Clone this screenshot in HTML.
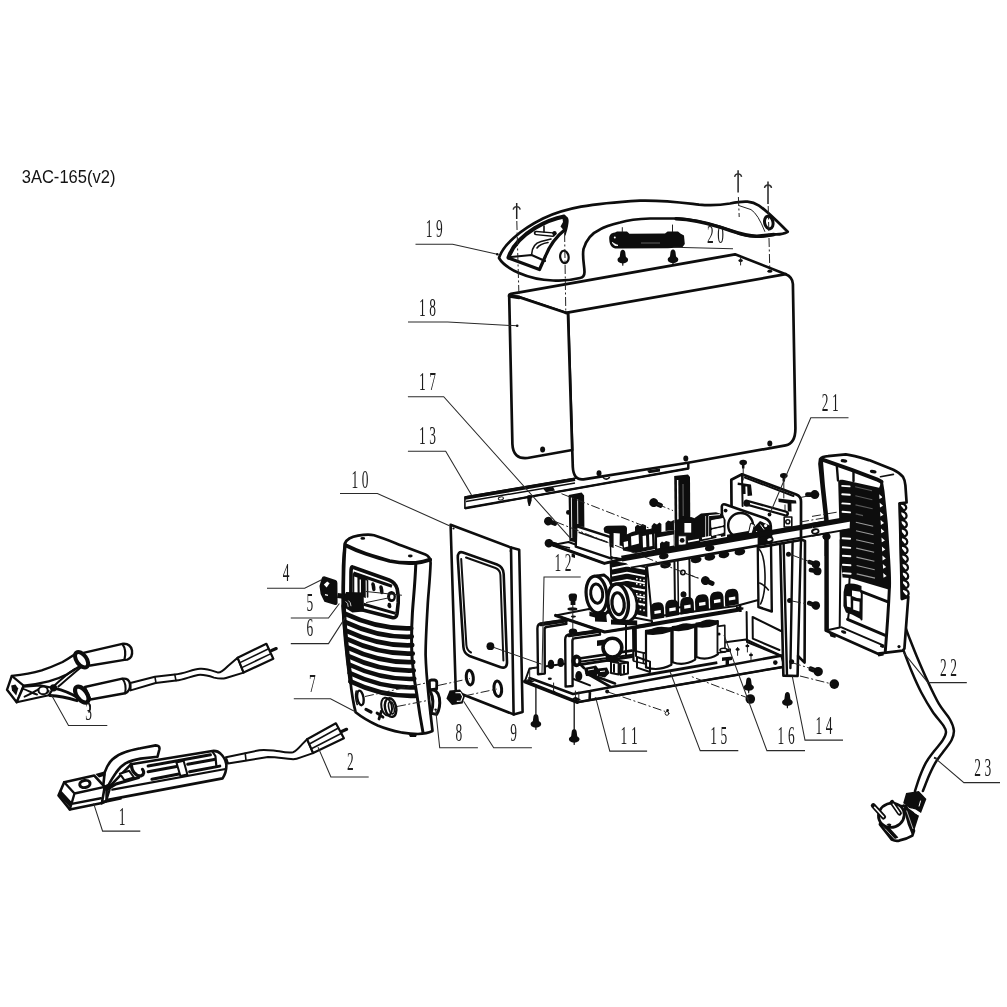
<!DOCTYPE html>
<html><head><meta charset="utf-8"><title>3AC-165(v2)</title>
<style>
html,body{margin:0;padding:0;background:#fff;}
svg{display:block;}
.o{fill:none;stroke:#0d0d0d;stroke-width:2.7;stroke-linejoin:round;stroke-linecap:round;}
.ow{fill:#fff;stroke:#0d0d0d;stroke-width:2.7;stroke-linejoin:round;stroke-linecap:round;}
.m{fill:none;stroke:#111;stroke-width:1.6;stroke-linejoin:round;stroke-linecap:round;}
.mw{fill:#fff;stroke:#111;stroke-width:1.6;stroke-linejoin:round;stroke-linecap:round;}
.t{fill:none;stroke:#222;stroke-width:1;stroke-linejoin:round;stroke-linecap:round;}
.tw{fill:#fff;stroke:#222;stroke-width:1;stroke-linejoin:round;}
.k{fill:none;stroke:#0d0d0d;stroke-width:3.4;stroke-linejoin:round;stroke-linecap:round;}
.l{fill:none;stroke:#2a2a2a;stroke-width:1.05;}
.d{fill:none;stroke:#222;stroke-width:1;stroke-dasharray:9 2.5 2 2.5;}
.f{fill:#0d0d0d;stroke:none;}
.w{fill:#fff;stroke:none;}
.lb{font-family:"Liberation Serif",serif;fill:#1a1a1a;opacity:.99;}
.ti{font-family:"Liberation Sans",sans-serif;fill:#111;opacity:.99;}
</style></head>
<body>
<svg width="1007" height="1007" viewBox="0 0 1007 1007" style="will-change:transform;opacity:.999">
<rect width="1007" height="1007" fill="#fff"/>
<text x="21.7" y="182.6" font-size="17.5" textLength="93.8" lengthAdjust="spacingAndGlyphs" class="ti">3AC-165(v2)</text>
<path class="ow" style="stroke-width:1.6" d="M464.9,497.1 L574.1,478.5 L688.3,462.8 L688.3,468.5 L464.9,508.3 Z"/>
<path d="M464.9,498 L575,479.2" stroke="#0d0d0d" stroke-width="3.6" fill="none"/>
<path d="M464.9,508.3 L688.3,468.5 L688.3,462.6" stroke="#0d0d0d" stroke-width="2.4" fill="none" stroke-linejoin="round"/>
<path d="M466,501.6 L575,483" stroke="#0d0d0d" stroke-width="1.5" fill="none"/>
<ellipse cx="500.9" cy="498.4" rx="2.6" ry="1.5" class="tw" transform="rotate(-9 500.9 498.4)"/>
<path class="f" d="M543,488.6 L553,487 L555,490.4 L546,492.2 Z"/>
<path class="f" d="M527.2,496.6 L531.6,496 L531.6,500.6 L530,506 L528.6,506 L527.4,501 Z"/>
<path class="f" d="M647,470.4 L660,468.4 L660,471.4 L649,473.2 Z"/>
<path class="m" d="M603.4,473 q-2,3.6 1,5.6 q3,1.4 5,-1"/>
<path class="ow" d="M509.5,296.5 Q508.3,294.5 511,293.8 L735,254.3 L785.8,274.2 Q792.6,277 792.9,284 L795.4,428 Q795.6,443.6 785.6,445.4 L689.4,462.5 L583.5,479.3 Q573.5,480.5 572.8,467 L568,313 L565.8,312.9 L519.2,297 Z"/>
<path class="ow" d="M509.2,296 L512.4,444 Q513,459.5 527.5,458 L572.2,450 L568,313.5 L519.2,297.2 Z"/>
<path class="o" d="M565.8,312.9 L785.8,274.2"/>
<path class="o" d="M509.5,296 L519.2,297.5" style="stroke-width:3.4"/>
<ellipse cx="542.6" cy="449.5" rx="2.5" ry="3" class="f"/>
<ellipse cx="599" cy="473.3" rx="2.5" ry="3" class="f"/>
<ellipse cx="685.8" cy="458.4" rx="2.5" ry="3" class="f"/>
<ellipse cx="769.8" cy="443.5" rx="2.5" ry="3" class="f"/>
<ellipse cx="740.6" cy="260.4" rx="2.2" ry="1.5" class="f"/><ellipse cx="769.8" cy="271.2" rx="2.4" ry="1.6" class="f"/>
<path class="t" d="M740.6,258 V265"/>
<circle cx="545.6" cy="451.5" r="0" />
<text x="707.0" y="242.6" font-size="25" textLength="6.7" lengthAdjust="spacingAndGlyphs" class="lb">2</text>
<text x="717.3" y="242.6" font-size="25" textLength="6.7" lengthAdjust="spacingAndGlyphs" class="lb">0</text>
<path class="ow" d="M499,258 C503,245 520,230 543,218.5 C565,208 590,203.5 640,200.6 C665,200 685,203 699,204.6 C710,205.6 720,205.2 730,203.5 C745,200.3 752,201 759,205.6 C767,211 778,222 787.7,231.8 C784,234 778,234.5 775,234.4 C765,236.5 757,237 755,236.4 C748,236 742,234.5 739,233.4 C730,230 722,227.5 719,226.5 C710,224 702,222 699,221.5 C690,219.5 683,218.5 679,218.5 L650,218.5 C635,219 625,221 620,222.5 C610,225 604,227 600,229.4 C592,233 586,240 583.5,249 C582,257 584.5,266 584.5,272 C584.5,276 583,277.5 580,278 C570,280.5 560,281 553,280.5 C540,280 528,277 519,273 C510,269 503,265 499,258 Z"/>
<path class="k" d="M676,218.8 C690,219.5 705,222.5 719,226.8 C735,232 745,236.2 757,236.2 L774,234.5"/>
<path class="t" d="M739,205.6 L751,209.6 Q758,214 764.8,231.4"/>
<ellipse cx="768.8" cy="222.5" rx="4.2" ry="6.4" fill="#fff" stroke="#0d0d0d" stroke-width="3" transform="rotate(-12 768.8 222.5)"/>
<path class="k" style="stroke-width:4" d="M508.5,257.5 C512,247 522,236 535,228 C546,221.5 556,218 564,216.5"/>
<path class="o" style="stroke-width:3.2" d="M508.5,258 L539.5,269.5 L545.5,256 C550,245 557,236 564.5,230"/>
<path class="f" d="M562,216 C567,214.5 569.5,218 568.5,223 C568,228 566.5,232 565.4,236 L563.5,230 L560.5,226.5 L563,222 Z"/>
<path class="o" d="M511,257 L531.6,255 L545,261" style="stroke-width:2"/>
<path class="m" d="M531.6,254.5 C532,247 535,243 541,241.5 L551,239"/>
<path class="m" d="M537,248 C539,245 542,243.5 548,242.5"/>
<path d="M536,233 L553,234.6" stroke="#0d0d0d" stroke-width="4.6" stroke-linecap="round" fill="none"/><path d="M536.4,233.1 L552.6,234.5" stroke="#fff" stroke-width="1.8" stroke-linecap="round" fill="none"/>
<circle cx="554.5" cy="233.2" r="2.2" class="f"/>
<path class="m" d="M544,226 V232"/>
<ellipse cx="564.4" cy="256.9" rx="4.2" ry="6.2" fill="#fff" stroke="#0d0d0d" stroke-width="2.2" transform="rotate(-8 564.4 256.9)"/>
<path class="f" d="M609.3,240 C608.8,235.4 610.6,233 615,232.6 L617,231.6 L627,231.6 L629.4,233.8 L665,233.6 L667.6,231.4 L678,231.4 L680.4,233.6 L684,235.4 L684.8,244 L682.4,247.2 L668,248.2 L617,248.6 C612,248.6 609.6,245.4 609.3,240 Z"/>
<path d="M612.4,242.4 C613.6,245 615.6,246 618,245.4 C615.6,244.6 613.6,243.4 612.4,242.4 Z" fill="#fff" stroke="#fff" stroke-width="1"/><circle cx="614.8" cy="237.6" r="1" fill="#fff"/>
<path d="M641,243 L660,243" stroke="#777" stroke-width="0.8" fill="none"/>
<path class="t" d="M622.3,227.6 V232 M672.5,225 V231.6"/>
<path class="f" transform="translate(622.8,259.59999999999997) scale(1.0)" d="M0,-9.9 C1.6,-9.9 2.3,-8.5 2.5,-7 L3,-3 C3.3,-2 5.3,-1.6 5.3,0.2 C5.3,2.6 2.6,3.6 0.7,3.7 L0.5,6.2 L-0.5,6.2 L-0.7,3.7 C-2.6,3.6 -5.3,2.6 -5.3,0.2 C-5.3,-1.6 -3.3,-2 -3,-3 L-2.5,-7 C-2.3,-8.5 -1.6,-9.9 0,-9.9 Z"/>
<path class="f" transform="translate(673,259.3) scale(1.0)" d="M0,-9.9 C1.6,-9.9 2.3,-8.5 2.5,-7 L3,-3 C3.3,-2 5.3,-1.6 5.3,0.2 C5.3,2.6 2.6,3.6 0.7,3.7 L0.5,6.2 L-0.5,6.2 L-0.7,3.7 C-2.6,3.6 -5.3,2.6 -5.3,0.2 C-5.3,-1.6 -3.3,-2 -3,-3 L-2.5,-7 C-2.3,-8.5 -1.6,-9.9 0,-9.9 Z"/>
<path d="M516.7,203 V219" stroke="#222" stroke-width="1.5" fill="none"/>
<path d="M513.2,209.6 Q513.5,206.8 516.7,206.6 Q519.9000000000001,206.8 520.2,209.6" stroke="#333" stroke-width="1.4" fill="none"/>
<path d="M738.1,170.3 V192.6" stroke="#222" stroke-width="1.5" fill="none"/>
<path d="M734.6,176.9 Q734.9,174.10000000000002 738.1,173.9 Q741.3000000000001,174.10000000000002 741.6,176.9" stroke="#333" stroke-width="1.4" fill="none"/>
<path d="M768,181.4 V204" stroke="#222" stroke-width="1.5" fill="none"/>
<path d="M764.5,188.0 Q764.8,185.20000000000002 768,185.0 Q771.2,185.20000000000002 771.5,188.0" stroke="#333" stroke-width="1.4" fill="none"/>
<path class="d" d="M516.8,221 L519,297 M564.6,233 L565.8,313 M738.4,197 L739.2,217 M768.2,206 L769.8,270"/>
<path class="ow" style="stroke-width:2" d="M524.8,681.5 L529.5,668.5 L746,639.5 L781.2,655.6 L784.4,666.7 L577.2,702.2 Z"/>
<path class="o" style="stroke-width:3.6" d="M524.8,681.5 L577.2,702.2"/>
<path class="o" style="stroke-width:2.6" d="M577.2,702.2 L784.4,666.7 M590,691 L781.2,655.6 M590,691 L589.6,699.6 M529.5,678 L573,694 L590,691"/>
<path class="ow" style="stroke-width:2.6" d="M780.2,543 L801,539.5 L805,541 L804.6,662.6 L798,656 L797.6,676 L783.4,675.6 Z"/>
<path class="o" style="stroke-width:2.4" d="M783.6,543 L787,675 M792.6,541.5 L790.4,668 M801,540 L798,656"/>
<circle cx="788.5" cy="554.2" r="2.5" class="f"/>
<circle cx="789.6" cy="600.6" r="2.5" class="f"/>
<circle cx="791.7" cy="661.8" r="2.5" class="f"/>
<circle cx="775.3" cy="662.6" r="2.3" class="f"/>
<path class="ow" style="stroke-width:2.7" d="M731.3,479.7 L742,474.3 L796.3,494.6 Q801,496.5 801,501.5 L801,540 L731.9,552 Z"/>
<path class="o" style="stroke-width:2" d="M742,474.3 L742.6,506 M745,477.6 L793.5,496"/>
<path class="f" d="M737.8,482.6 L751,484.4 L752.2,495.6 L747.6,496 L747.2,486.6 L745.4,486.4 L745.6,494 L743,494 L742.8,485.6 L737.6,485 Z"/>
<path class="f" d="M778.4,498.6 L796,500.4 L796.4,503.4 L791.4,503.6 L791.6,511.6 L787.8,511.6 L787.6,503.4 L778.6,502 Z"/>
<path class="t" d="M785,505 V512"/>
<path d="M746.6,502.6 L786,513.6" stroke="#0d0d0d" stroke-width="6" stroke-linecap="round"/><path d="M748,503 L785.6,513.6" stroke="#fff" stroke-width="1.6" stroke-linecap="round"/>
<circle cx="746.8" cy="503.6" r="3.2" class="f"/>
<path class="o" style="stroke-width:2.4" d="M757.6,546 L758.4,607 M771,543.5 L771.8,611.5 M758.4,607 L771.8,611.5"/>
<path class="m" d="M759,549 C766,556 767.4,590 760.6,604 M759.6,583 C763,584.6 766,586.6 768.4,590"/>
<path class="ow" style="stroke-width:2.6" d="M721.8,506.5 Q722,503.5 725.4,504.6 L765,518.2 Q770.6,520.6 770.8,526 L771.2,542 L722.6,551 Z"/>
<circle cx="740.6" cy="525.4" r="12.4" fill="#fff" stroke="#0d0d0d" stroke-width="2.4"/>
<path class="f" d="M722.5,535.4 L751,530.6 L760,521 L771,526 L771,543 L722.5,552 Z"/>
<path d="M729.4,534.2 L749.6,530.6 L751,524.6 L752.4,522.6 L746,520 L740,518 Z" fill="#fff" opacity="0"/>
<path d="M750.6,523.4 L754.6,524.6 L750.8,538.4 L747.4,538 Z" fill="#fff" stroke="#0d0d0d" stroke-width="1"/>
<path d="M756.4,531 L759,536.6 L757.2,536.8 Z M760.4,524.5 L764,529.6" stroke="#fff" stroke-width="1" fill="none"/>
<circle cx="725.6" cy="510.6" r="1.9" class="f"/><circle cx="769.5" cy="514.5" r="1.9" class="f"/><circle cx="765.6" cy="525.6" r="1.6" fill="#fff"/>
<rect x="784.2" y="517" width="7.6" height="10" class="mw"/><circle cx="787.8" cy="521.8" r="2" class="m"/>
<path class="ow" style="stroke-width:2" d="M647,566 L757.6,546 L758.2,600 L736,606 L652,617 Z"/>
<path class="ow" style="stroke-width:2" d="M674.4,561 L689.4,558.6 L689.8,606 L675,608 Z"/>
<path class="m" d="M677.8,561 L678.4,607"/>
<circle cx="682.9" cy="572.4" r="2.2" class="m"/><circle cx="683.5" cy="594.4" r="2.2" class="m"/>
<path class="f" d="M609.6,560.6 L647,566.5 L647.4,617 L627,612 L610.4,586 Z"/>
<path d="M612,568.5 L627,565.5 L645,568.9" stroke="#fff" stroke-width="1.8" fill="none"/>
<path d="M612,575.7 L627,572.7 L645,576.1" stroke="#fff" stroke-width="1.8" fill="none"/>
<path d="M612,582.9 L627,579.9 L645,583.3" stroke="#fff" stroke-width="1.8" fill="none"/>
<path d="M612,590.1 L627,587.1 L645,590.5" stroke="#fff" stroke-width="1.8" fill="none"/>
<path d="M612,597.3 L627,594.3 L645,597.7" stroke="#fff" stroke-width="1.8" fill="none"/>
<path d="M612,604.5 L627,601.5 L645,604.9" stroke="#fff" stroke-width="1.8" fill="none"/>
<rect x="636.0" y="578.0" width="1.6" height="1.6" fill="#fff"/>
<rect x="639.6" y="578.8" width="1.6" height="1.6" fill="#fff"/>
<rect x="643.2" y="579.6" width="1.6" height="1.6" fill="#fff"/>
<rect x="636.0" y="583.0" width="1.6" height="1.6" fill="#fff"/>
<rect x="639.6" y="583.8" width="1.6" height="1.6" fill="#fff"/>
<rect x="643.2" y="584.6" width="1.6" height="1.6" fill="#fff"/>
<rect x="636.0" y="588.0" width="1.6" height="1.6" fill="#fff"/>
<rect x="639.6" y="588.8" width="1.6" height="1.6" fill="#fff"/>
<rect x="643.2" y="589.6" width="1.6" height="1.6" fill="#fff"/>
<rect x="636.0" y="593.0" width="1.6" height="1.6" fill="#fff"/>
<rect x="639.6" y="593.8" width="1.6" height="1.6" fill="#fff"/>
<rect x="643.2" y="594.6" width="1.6" height="1.6" fill="#fff"/>
<rect x="636.0" y="598.0" width="1.6" height="1.6" fill="#fff"/>
<rect x="639.6" y="598.8" width="1.6" height="1.6" fill="#fff"/>
<rect x="643.2" y="599.6" width="1.6" height="1.6" fill="#fff"/>
<rect x="636.0" y="603.0" width="1.6" height="1.6" fill="#fff"/>
<rect x="639.6" y="603.8" width="1.6" height="1.6" fill="#fff"/>
<rect x="643.2" y="604.6" width="1.6" height="1.6" fill="#fff"/>
<rect x="636.0" y="608.0" width="1.6" height="1.6" fill="#fff"/>
<rect x="639.6" y="608.8" width="1.6" height="1.6" fill="#fff"/>
<rect x="643.2" y="609.6" width="1.6" height="1.6" fill="#fff"/>
<path class="ow" style="stroke-width:2" d="M555.6,615.4 L589,609 L652,621 L652,624.4 L604.6,632 Z"/>
<path class="o" style="stroke-width:3.2" d="M555.6,615.4 L604.6,632 L646,625.4"/>
<path class="ow" style="stroke-width:2.8" d="M597,575.8 L604,575 C609,578 612.4,584 613,592 C613.4,601 611,609 606,613.4 L598,613.4 Z"/>
<ellipse cx="596.5" cy="594.5" rx="10.3" ry="18.5" fill="#fff" stroke="#0d0d0d" stroke-width="3.2" transform="rotate(-6 596.5 594.5)"/>
<ellipse cx="596.7" cy="593.6" rx="6" ry="9.6" fill="#fff" stroke="#0d0d0d" stroke-width="3" transform="rotate(-6 596.7 593.6)"/>
<path class="ow" style="stroke-width:2.8" d="M618,583.8 L624,583.6 C631,586.6 636,594 637,603 C637.6,612 634.6,618.6 629.4,621 L619,621.2 Z"/>
<ellipse cx="618.1" cy="602.5" rx="10.2" ry="18.6" fill="#fff" stroke="#0d0d0d" stroke-width="3.4" transform="rotate(-6 618.1 602.5)"/>
<ellipse cx="618.1" cy="603.7" rx="6.1" ry="11" fill="#fff" stroke="#0d0d0d" stroke-width="3.2" transform="rotate(-6 618.1 603.7)"/>
<path class="f" d="M589.4,611.6 L596,613.6 L606.4,613.6 L606.4,617 L607,622 L595,621.6 L595,617.6 L589.4,616 Z M611,619.6 L637.2,620.6 L637.2,625.4 L611,624.6 Z"/>
<path class="f" d="M650.3,609.8 Q650.3,602.9 656.5,602.5 Q663.3,601.5 663.9,607.7 L664.3,617.7 L650.7,620.1 Z"/>
<path d="M654.3,610.9 L660.7,609.9 L660.9,613.1 L654.5,614.1 Z" fill="#fff"/>
<path class="f" d="M665.2,607.1 Q665.2,600.2 671.4,599.8 Q678.2,598.8 678.8,605.0 L679.2,615.0 L665.6,617.4 Z"/>
<path d="M669.2,608.2 L675.6,607.2 L675.8,610.4 L669.4,611.4 Z" fill="#fff"/>
<path class="f" d="M680.1,604.4 Q680.1,597.5 686.3,597.1 Q693.1,596.1 693.7,602.3 L694.1,612.3 L680.5,614.7 Z"/>
<path d="M684.1,605.5 L690.5,604.5 L690.7,607.7 L684.3,608.7 Z" fill="#fff"/>
<path class="f" d="M695.0,601.7 Q695.0,594.8 701.2,594.4 Q708.0,593.4 708.6,599.6 L709.0,609.6 L695.4,612.0 Z"/>
<path d="M699.0,602.8 L705.4,601.8 L705.6,605.0 L699.2,606.0 Z" fill="#fff"/>
<path class="f" d="M709.9,599.0 Q709.9,592.1 716.1,591.7 Q722.9,590.7 723.5,596.9 L723.9,606.9 L710.3,609.3 Z"/>
<path d="M713.9,600.1 L720.3,599.1 L720.5,602.3 L714.1,603.3 Z" fill="#fff"/>
<path class="f" d="M724.8,596.3 Q724.8,589.4 731.0,589.0 Q737.8,588.0 738.4,594.2 L738.8,604.2 L725.2,606.6 Z"/>
<path d="M728.8,597.4 L735.2,596.4 L735.4,599.6 L729.0,600.6 Z" fill="#fff"/>
<path d="M636,627 L741.2,609.2" stroke="#0d0d0d" stroke-width="4" fill="none"/>
<path d="M740,604.4 L740.4,612 M743.4,608.6 L736,607.6" stroke="#0d0d0d" stroke-width="2.4"/>
<circle cx="683.5" cy="593.9" r="2.4" class="f"/>
<path class="ow" style="stroke-width:2.2" d="M646,630.8 L671.4,628.2 L671.4,664.8 Q658.7,671.6 646,667.4 Z"/>
<path class="f" d="M646,631.8 Q658.7,623.6 671.4,628.8 L671.4,631.4 Q658.7,636.2 646,634.4 Z"/>
<path class="ow" style="stroke-width:2.2" d="M672.6,627.1999999999999 L695.2,624.6 L695.2,659.6 Q683.9,666.4 672.6,662.1999999999999 Z"/>
<path class="f" d="M672.6,628.1999999999999 Q683.9,620.0 695.2,625.1999999999999 L695.2,627.8 Q683.9,632.6 672.6,630.8 Z"/>
<path class="ow" style="stroke-width:2.2" d="M696.4,623.5999999999999 L717.8,621.0 L717.8,654.4 Q707.1,661.2 696.4,657.0 Z"/>
<path class="f" d="M696.4,624.5999999999999 Q707.1,616.4 717.8,621.5999999999999 L717.8,624.2 Q707.1,629.0 696.4,627.2 Z"/>
<path class="mw" d="M633.5,650.6 L645.6,653.4 L645.6,664 L633.5,661 Z"/><path class="m" d="M643.4,653 V663"/>
<path class="o" style="stroke-width:2" d="M626,624 L626,656 M634,627 L634,650"/>
<path d="M628.3,678 L717.3,662.7" stroke="#0d0d0d" stroke-width="2.8" fill="none"/>
<path class="mw" d="M717.6,626.4 L724.8,625.4 L725,652 L717.6,653 Z"/><circle cx="719" cy="634" r="1.6" class="f"/>
<path class="o" style="stroke-width:2" d="M746.6,612 L747,642 L781,656 M752.6,617 L752.8,638.6 L779.4,650 M752.6,617 L781,631"/>
<path class="f" d="M720,649.4 L731,648.6 L731,651.8 L720,652.8 Z M722,657.4 L732,656.4 L732,660 L729,660.4 L729,665 L725.6,665 L725.6,660.6 L722,661 Z"/>
<ellipse cx="723.6" cy="650" rx="3.6" ry="1.8" class="mw"/>
<path d="M737.6,647.4 V655.4" class="t"/><ellipse cx="737.6" cy="649.4" rx="2" ry="1.3" class="f"/>
<path d="M747.4,644 V652" class="t"/><ellipse cx="747.4" cy="646" rx="2" ry="1.3" class="f"/>
<path d="M751,653 V661" class="t"/><ellipse cx="751" cy="655" rx="2" ry="1.3" class="f"/>
<path class="o" style="stroke-width:2" d="M633,628 L633.4,660 M635.8,628 L636,656 M637,657 L650,661.6 L650,672 L637,667.6 Z"/>
<path class="o" style="stroke-width:2.6" d="M576,659 L631.7,650.6 M580,664.6 L632,656.6"/>
<path class="ow" style="stroke-width:2.4" d="M537.4,628.4 Q537.4,623.6 542,623.2 L566,619.6 L566.4,623.8 L546.4,627 Q544.6,627.4 544.6,629.6 L544.8,673.6 L538,674.2 Z"/>
<path class="o" style="stroke-width:3.6" d="M541,624.4 L566,620.6"/>
<path class="ow" style="stroke-width:2.4" d="M565.2,639.6 Q565.2,634.8 569.6,634.4 L599.5,630.2 L600,634.6 L574.2,638.4 Q572.4,638.8 572.4,641 L572.6,686 L565.6,686.6 Z"/>
<path class="o" style="stroke-width:3.6" d="M569,635.4 L599.4,631.2"/>
<circle cx="612.4" cy="647.6" r="9.4" fill="#fff" stroke="#0d0d0d" stroke-width="3.6"/>
<path class="f" d="M597,640.6 L605,639.4 L605,645 L597,646 Z M606,656 L618,657.6 L618,663 L606,661.4 Z"/>
<ellipse cx="551" cy="664.4" rx="3.2" ry="4.6" class="f"/>
<ellipse cx="560.7" cy="662.5" rx="3.2" ry="4.6" class="f"/>
<ellipse cx="578.8" cy="676" rx="3.5200000000000005" ry="5.06" class="f"/>
<ellipse cx="576.4" cy="660.8" rx="5" ry="6.4" class="f"/><ellipse cx="577" cy="661" rx="1.4" ry="2.6" fill="#fff"/>
<path class="f" d="M584,668 L596,665.6 L600,671 L596,676.6 L586,676 Z M598,668.6 L607,667.6 L609.6,673 L605,677.6 L598,676 Z"/>
<path d="M588,670 L594,669 M600,671.6 L605,671" stroke="#fff" stroke-width="1"/>
<path class="mw" style="stroke-width:2" d="M611,661.6 L618.6,663 L618.6,674.6 L611,673 Z M620.6,663.6 L628,662.4 L628,673.6 L620.6,675 Z"/>
<path class="o" style="stroke-width:2" d="M611,661.6 L618,660.4 L628,662.4 M614,664.6 V672 M624,665.4 V673"/>
<path class="o" style="stroke-width:2.6" d="M594.3,675.7 L615,683.5 M586.6,673.4 L610,686.5 M580,664 L584,668"/>
<path class="o" style="stroke-width:2" d="M573.6,679 L590,685.4"/>
<path class="t" d="M529.7,679.5 L529.7,669.4 L536,667.4 M553.6,683 V692 M575.4,691 V699 M578.8,692 V701"/>
<ellipse cx="549.8" cy="678.8" rx="2" ry="1.2" class="f"/><ellipse cx="553.6" cy="691.8" rx="1.8" ry="1.1" class="f"/><circle cx="607.2" cy="691.5" r="2" class="f"/><circle cx="595.6" cy="698.4" r="1.2" class="f"/>
<path class="f" d="M572,698.4 L578,701 L581,699.4 L575.6,696.8 Z M525.6,680 L531,682.6 L534.6,681.4 L529,679 Z"/>
<path class="f" d="M568.6,596.6 Q568.4,593.6 571.6,593.4 L574.6,593.4 Q577.4,593.6 577,596.8 L576.4,600.6 L575.4,601 L575.4,605 L570.6,605 L570.6,601 L569.4,600.6 Z"/>
<ellipse cx="572.4" cy="609" rx="5" ry="1.7" class="f"/><ellipse cx="573.4" cy="616.6" rx="2.6" ry="1.1" class="f"/>
<path class="t" d="M572.8,605 V640"/>
<ellipse cx="573" cy="631.6" rx="4.2" ry="3" class="f"/>
<path class="ow" style="stroke-width:2" d="M553.1,545 L568.6,542 L611,557.6 L623.4,558.7 L604.4,563.4 Z"/>
<path class="o" style="stroke-width:3" d="M553.1,545 L604.4,563.4 L623,559"/>
<path class="ow" style="stroke-width:2.4" d="M576,526 L610.6,537.2 L611.5,558.7 L575.8,546.7 Z"/>
<path class="m" d="M579.3,532.4 L606.7,542"/>
<path class="f" d="M571.6,553.6 L575,554.6 L575,558 L571.6,557 Z"/>
<path class="f" d="M568.6,495 L581.6,492.5 L584.1,495.6 L584.4,527 L577.4,526.4 L577,542.6 L569.4,541 Z"/>
<path d="M571.4,497.6 L571.8,538 M577.6,499 L577.8,524" stroke="#fff" stroke-width="0.9" fill="none"/>
<circle cx="568.4" cy="512.4" r="2.4" class="f"/>
<path class="f" d="M674.2,476 L688,474.6 L690,477 L690.4,538 L674.8,540.6 Z"/>
<path d="M677.6,480 L678,530" stroke="#fff" stroke-width="1.4" fill="none"/>
<path d="M683,484 L683.2,516" stroke="#666" stroke-width="1" fill="none"/>
<path d="M611,537 L674,523 L700,520 L727,516 L727,540 L622,558 L611.5,556 Z" fill="#fff"/>
<path class="f" d="M603.6,529 Q604,526 608,525.8 L624,525.6 Q627.4,526 627,529.6 L626.6,546.7 L619.6,545.6 L619.8,533.6 L613.6,533 L613.6,548 L609.6,546.4 L609.4,534 L604.4,532.6 Z"/>
<path class="f" d="M621,537 L632,532 L640,530 L654.4,528.6 L655,549 L636,553 L623,550.6 Z"/>
<path d="M631,536.4 L638.6,534.4 L639,543.6 L631.4,545.4 Z M642.6,536 L646,535.4 L646.4,547 L643,547.6 Z M649,534.6 L652,534.2 L652.4,546 L649.4,546.6 Z M623.6,542 L628,541 L628.2,546.6 L624,547.6 Z" fill="#fff"/>
<path class="f" d="M635,527 L637.4,524.6 L640,526 L642.6,524 L646,525.4 L646,531.6 L635,533 Z M651.6,526 L654,523 L657,524.6 L659.4,522.6 L661.4,524 L661.4,533 L651.6,534 Z M665.5,523 L668,520.4 L671,521.6 L673.9,520 L674,530 L665.5,531 Z"/>
<path class="f" d="M655,533 L674.4,530 L674.6,548.6 L655,552 Z"/>
<path d="M657,537.4 L673.6,534.6 L673.8,545.6 L657.2,548.6 Z" fill="#fff"/>
<path class="f" d="M660,543.6 L662,541.6 L664,542.6 L666,541 L669.6,542 L669.6,549 L660,550.6 Z"/>
<path class="f" d="M674.6,520 L691,517 L697,519 L700,524 L700,546 L675,550 Z"/>
<rect x="684.4" y="523" width="6.8" height="9.6" fill="#fff"/>
<rect x="678.2" y="535.8" width="8" height="9.4" fill="#fff" stroke="#0d0d0d" stroke-width="1"/><circle cx="682.2" cy="540.4" r="2.4" class="f"/>
<path class="f" d="M694.6,518 L701,513.4 L716,512.2 L723,514.6 L725.6,520 L725.4,536 L700,541.6 L694.6,539 Z"/>
<path d="M709,515.6 L720,514.6 M711.6,520.6 L723,518.6 L723.2,525 L711.8,527.4 Z M712,530 L723.2,527.6 L723.2,532.6 L712,535.4 Z" fill="#fff" stroke="#fff" stroke-width="1"/>
<path d="M705.6,516 V538 M708.6,515.6 V537" stroke="#fff" stroke-width="0.7"/>
<path d="M688,541.6 L699,539.6 M702,538.4 L711,536.6" stroke="#fff" stroke-width="1.8"/>
<rect x="716.4" y="535.6" width="4.6" height="3.6" fill="#fff"/>
<path d="M631,568 L757.6,545.6 L757.6,535 L622,558.5 Z" fill="#fff"/>
<path d="M621.6,558.6 L760,534.3" stroke="#0d0d0d" stroke-width="6" stroke-linecap="butt" fill="none"/>
<path d="M759,534.7 L850,518.9" stroke="#0d0d0d" stroke-width="5.2" stroke-linecap="butt" fill="none"/>
<path d="M630.6,567.6 L850,529" stroke="#0d0d0d" stroke-width="1.9" stroke-linecap="butt" fill="none"/>
<path d="M757.6,541 L850,524.6" stroke="#fff" stroke-width="0" />
<ellipse cx="663.8" cy="556.2" rx="4.8" ry="3" class="f" transform="rotate(-10 663.8 556.2)"/>
<ellipse cx="709.7" cy="548.1" rx="4.8" ry="3" class="f" transform="rotate(-10 709.7 548.1)"/>
<ellipse cx="665.6" cy="565.0" rx="5.4" ry="3.4" class="f" transform="rotate(-10 665.6 565.0)"/>
<ellipse cx="696.2" cy="559.7" rx="5.4" ry="3.4" class="f" transform="rotate(-10 696.2 559.7)"/>
<ellipse cx="709.9" cy="557.2" rx="5.4" ry="3.4" class="f" transform="rotate(-10 709.9 557.2)"/>
<ellipse cx="724" cy="554.8" rx="5.4" ry="3.4" class="f" transform="rotate(-10 724 554.8)"/>
<ellipse cx="739.9" cy="552.0" rx="5.4" ry="3.4" class="f" transform="rotate(-10 739.9 552.0)"/>
<ellipse cx="769.5" cy="539.6" rx="3.2" ry="2.2" fill="#fff" stroke="#0d0d0d" stroke-width="1.8" transform="rotate(-12 769.5 539.6)"/>
<ellipse cx="815.4" cy="531.4" rx="3.2" ry="2.2" fill="#fff" stroke="#0d0d0d" stroke-width="1.8" transform="rotate(-12 815.4 531.4)"/>
<ellipse cx="826.6" cy="536.6" rx="4" ry="3.4" class="f"/><path d="M825.6,538 V556" stroke="#0d0d0d" stroke-width="1.6"/>
<g transform="translate(548.3,521.1) rotate(20) scale(1.1)"><circle r="3.9" class="f"/><rect x="2" y="-2.1" width="6.4" height="4.2" rx="1.8" class="f"/></g>
<g transform="translate(548.9,543.2) rotate(12) scale(1.1)"><circle r="3.9" class="f"/><rect x="2" y="-2.1" width="6.4" height="4.2" rx="1.8" class="f"/></g>
<g transform="translate(653.7,502.6) rotate(22) scale(1.15)"><circle r="3.9" class="f"/><rect x="2" y="-2.1" width="6.4" height="4.2" rx="1.8" class="f"/></g>
<g transform="translate(705.4,580.6) rotate(22) scale(1.15)"><circle r="3.9" class="f"/><rect x="2" y="-2.1" width="6.4" height="4.2" rx="1.8" class="f"/></g>
<path d="M549,543.4 L570,548" stroke="#0d0d0d" stroke-width="1.6"/>
<g transform="translate(814.8,494.6) rotate(180) scale(1.15)"><circle r="3.9" class="f"/><rect x="2" y="-2.1" width="6.4" height="4.2" rx="1.8" class="f"/></g>
<g transform="translate(816,564.4) rotate(200) scale(1.05)"><circle r="3.9" class="f"/><rect x="2" y="-2.1" width="6.4" height="4.2" rx="1.8" class="f"/></g>
<g transform="translate(817.4,571.2) rotate(190) scale(1.05)"><circle r="3.9" class="f"/><rect x="2" y="-2.1" width="6.4" height="4.2" rx="1.8" class="f"/></g>
<g transform="translate(815.8,605.5) rotate(200) scale(1.1)"><circle r="3.9" class="f"/><rect x="2" y="-2.1" width="6.4" height="4.2" rx="1.8" class="f"/></g>
<g transform="translate(818.2,671.6) rotate(200) scale(1.2)"><circle r="3.9" class="f"/><rect x="2" y="-2.1" width="6.4" height="4.2" rx="1.8" class="f"/></g>
<circle cx="834.3" cy="684.1" r="4.8" class="f"/>
<circle cx="750.3" cy="699" r="4.8" class="f"/>
<path class="f" transform="translate(748.7,687.1) scale(0.98)" d="M0,-9.9 C1.6,-9.9 2.3,-8.5 2.5,-7 L3,-3 C3.3,-2 5.3,-1.6 5.3,0.2 C5.3,2.6 2.6,3.6 0.7,3.7 L0.5,6.2 L-0.5,6.2 L-0.7,3.7 C-2.6,3.6 -5.3,2.6 -5.3,0.2 C-5.3,-1.6 -3.3,-2 -3,-3 L-2.5,-7 C-2.3,-8.5 -1.6,-9.9 0,-9.9 Z"/>
<path class="f" transform="translate(787.4,702.0) scale(1.0)" d="M0,-9.9 C1.6,-9.9 2.3,-8.5 2.5,-7 L3,-3 C3.3,-2 5.3,-1.6 5.3,0.2 C5.3,2.6 2.6,3.6 0.7,3.7 L0.5,6.2 L-0.5,6.2 L-0.7,3.7 C-2.6,3.6 -5.3,2.6 -5.3,0.2 C-5.3,-1.6 -3.3,-2 -3,-3 L-2.5,-7 C-2.3,-8.5 -1.6,-9.9 0,-9.9 Z"/>
<path class="f" transform="translate(535.9,723.8000000000001) scale(1.0)" d="M0,-9.9 C1.6,-9.9 2.3,-8.5 2.5,-7 L3,-3 C3.3,-2 5.3,-1.6 5.3,0.2 C5.3,2.6 2.6,3.6 0.7,3.7 L0.5,6.2 L-0.5,6.2 L-0.7,3.7 C-2.6,3.6 -5.3,2.6 -5.3,0.2 C-5.3,-1.6 -3.3,-2 -3,-3 L-2.5,-7 C-2.3,-8.5 -1.6,-9.9 0,-9.9 Z"/>
<path class="f" transform="translate(574.2,738.9000000000001) scale(1.0)" d="M0,-9.9 C1.6,-9.9 2.3,-8.5 2.5,-7 L3,-3 C3.3,-2 5.3,-1.6 5.3,0.2 C5.3,2.6 2.6,3.6 0.7,3.7 L0.5,6.2 L-0.5,6.2 L-0.7,3.7 C-2.6,3.6 -5.3,2.6 -5.3,0.2 C-5.3,-1.6 -3.3,-2 -3,-3 L-2.5,-7 C-2.3,-8.5 -1.6,-9.9 0,-9.9 Z"/>
<path d="M535.9,684 V714 M574.2,701 V729" stroke="#111" stroke-width="1.3"/>
<ellipse cx="743.2" cy="462.4" rx="3.8" ry="2.6" class="f"/><path d="M741.7,462.4 L742.0,468.4 L744.4000000000001,468.4 L744.7,462.4 Z" class="f"/>
<ellipse cx="783.8" cy="475.5" rx="3.8" ry="2.6" class="f"/><path d="M782.3,475.5 L782.5999999999999,481.5 L785.0,481.5 L785.3,475.5 Z" class="f"/>
<path class="t" d="M743.2,468 V480 M783.8,481 V498"/>
<ellipse cx="529.4" cy="497" rx="2.6" ry="2" class="f"/><path d="M529.4,497 V504" stroke="#0d0d0d" stroke-width="1.6"/>
<circle cx="667" cy="713.4" r="1.9" class="t"/><circle cx="667.6" cy="710.4" r="1.3" class="f"/>
<path class="d" d="M561.5,493.7 L652,529.2 M555.5,521.7 L700,579 M657,504 L673,510.6 M607.4,691.8 L665,711.4 M686,573.6 L700,578.6 M749.4,698.5 L690,676 M790.8,554.6 L812,562.6 M792,601 L812,605 M792,662.6 L814,669.6 M800,676 L832,684 M801,497.4 L810,495.6 M800,522 L848,514 "/>
<path class="ow" style="stroke-width:2.6" d="M450.6,524.8 L511,547.6 L519.2,549.7 L522.6,712 L513.6,714.4 L455.8,691.8 Z"/>
<path class="o" style="stroke-width:2.6" d="M511,547.6 L513.6,714.4"/>
<path class="o" style="stroke-width:2.6" d="M463,552.5 L497,564.5 Q503.5,567 503.7,574 L507,662 Q507.2,669.5 500,667 L469.5,656 Q463.8,653.5 463.4,647 L457.8,558 Q457.4,550.8 463,552.5 Z"/>
<path class="m" style="stroke-width:2" d="M466,557.5 L495.5,568 Q500.2,570 500.4,575 L503.4,660.5 M461.2,559 L466.4,645 Q466.8,650.5 471,652.5"/>
<circle cx="490.4" cy="646.2" r="3.9" class="f"/>
<path class="t" d="M494,647.5 L541,664"/>
<ellipse cx="469.8" cy="677.6" rx="3.5" ry="7.4" class="o" style="stroke-width:3" transform="rotate(-6 469.8 677.6)"/>
<ellipse cx="497.8" cy="688.8" rx="3.8" ry="7.8" class="o" style="stroke-width:3" transform="rotate(-6 497.8 688.8)"/>
<circle cx="453.5" cy="528.5" r="1.1" class="f"/><circle cx="510.6" cy="551" r="1.1" class="f"/>
<path class="ow" d="M344.9,543.3 C347,538.5 352,536.5 358,535.6 C364,534.6 370,534.4 374,535.2 C385,538.5 395,543 401.5,545.5 L425.4,554.4 C429,555.8 430.4,558 430.6,563 C430,580 428.2,595 427.7,605 C426.5,625 425.6,640 425.6,655 C426,670 427,680 428.5,695 C430,710 431.5,722 432.5,731 C427,733.5 423,733.8 418,734 C410,733.8 405,733 401.5,732.5 C392,730.5 384,728 377.7,725.4 C368,721 361,716.5 355.6,712.2 C353,702 351.5,692 350.3,680 C348.5,668 347.5,660 346.6,650 C345,635 343.6,620 342.8,606 C342.6,590 342.8,578 343.1,565.8 C343.6,556 344.2,549 344.9,543.3 Z"/>
<path class="k" style="stroke-width:3.2" d="M345.2,544 C344,556 343.4,580 343.4,606"/>
<path class="k" style="stroke-width:4.4" d="M343.6,606 C344.6,630 347.2,655 350.8,682"/>
<path class="o" style="stroke-width:3.8" d="M346.7,545.8 C353,549 359,551.5 365.8,553.8 C374,556.5 382,559 389.6,561 C399,563 408,563.3 415.8,562.8 C421,562.2 426,561 430.2,559.6"/>
<path class="o" style="stroke-width:3" d="M415.8,564 C415,585 413.2,600 412.4,613 C411.4,630 411.2,645 412.2,660 C413.4,675 415,685 417,695.6 C419,710 421,722 423,732.5"/>
<ellipse cx="362.8" cy="538.4" rx="2.4" ry="1.4" class="f"/><ellipse cx="410.3" cy="556" rx="2.4" ry="1.4" class="f"/>
<path class="o" style="stroke-width:3.6" d="M352.4,567 L389,580 Q395.5,582.6 397.2,589 Q398.8,596 398.2,603 L397,614 Q396.4,618.5 392,617.5 L353,607.5 L350.8,606 L351,572 Q351.1,566.4 352.4,567 Z"/>
<path d="M353.4,573 L392,586.2" stroke="#0d0d0d" stroke-width="3.2" fill="none"/>
<path d="M363.6,604.2 L395.5,613.4" stroke="#0d0d0d" stroke-width="3" fill="none"/>
<path class="m" d="M353.5,574 V604"/>
<path class="f" d="M354,573.2 L367,577.6 L367,580.6 L365.6,580.2 L365.8,598 L357.6,595.5 L357.4,577.6 L354,576.5 Z"/>
<path d="M360.3,579.5 V593.5" stroke="#fff" stroke-width="1.3"/>
<path class="m" d="M367.5,580 L367.6,597"/>
<path class="f" d="M371.8,582.5 q2.2,-1 3,1.4 l0.6,3 q0.6,3 -0.8,4 q-2,1 -2.6,-2 l-0.4,-3 q-1,-1.8 0.2,-3.4z"/>
<path class="f" d="M379.8,585.5 q2.2,-1 3,1.4 l0.6,3 q0.6,3 -0.8,4 q-2,1 -2.6,-2 l-0.4,-3 q-1,-1.8 0.2,-3.4z"/>
<ellipse cx="391.5" cy="596.5" rx="4.4" ry="5.6" class="f"/><ellipse cx="391.8" cy="596.7" rx="1.8" ry="2.6" class="w"/>
<path class="f" d="M388,603 q2,-1 3,1 l0.4,2.8 q-0.4,2 -2.4,1.2 q-1.6,-1 -1.6,-2.6z"/>
<path class="t" d="M366,591.5 L401.5,595.2 M366.5,602.5 L389,597.8"/>
<path d="M345.4,613.9 Q378.3,629.5 411.2,628.3" stroke="#0d0d0d" stroke-width="4.7" stroke-linecap="round" fill="none"/>
<path d="M346.0,622.3 Q378.9,637.9 411.7,636.7" stroke="#0d0d0d" stroke-width="4.7" stroke-linecap="round" fill="none"/>
<path d="M346.6,630.8 Q379.4,646.4 412.2,645.2" stroke="#0d0d0d" stroke-width="4.7" stroke-linecap="round" fill="none"/>
<path d="M347.3,639.2 Q380.0,654.8 412.7,653.6" stroke="#0d0d0d" stroke-width="4.7" stroke-linecap="round" fill="none"/>
<path d="M347.9,647.7 Q380.5,663.3 413.2,662.1" stroke="#0d0d0d" stroke-width="4.7" stroke-linecap="round" fill="none"/>
<path d="M348.5,656.1 Q381.1,671.7 413.7,670.5" stroke="#0d0d0d" stroke-width="4.7" stroke-linecap="round" fill="none"/>
<path d="M349.1,664.5 Q381.7,680.1 414.2,678.9" stroke="#0d0d0d" stroke-width="4.7" stroke-linecap="round" fill="none"/>
<path d="M349.7,673.0 Q382.2,688.6 414.7,687.4" stroke="#0d0d0d" stroke-width="4.7" stroke-linecap="round" fill="none"/>
<path d="M350.4,681.4 Q382.8,697.0 415.2,695.8" stroke="#0d0d0d" stroke-width="4.7" stroke-linecap="round" fill="none"/>
<ellipse cx="360.4" cy="697.9" rx="3.1" ry="7.4" class="o" style="stroke-width:2.4" transform="rotate(-10 360.4 697.9)"/>
<path class="m" d="M356.2,691 q-1.6,6 1,13.5"/>
<ellipse cx="390.6" cy="707.6" rx="5.6" ry="9.4" class="o" style="stroke-width:2.4" transform="rotate(-12 390.6 707.6)"/>
<ellipse cx="386.6" cy="706.6" rx="5.2" ry="9" class="o" style="stroke-width:2" transform="rotate(-12 386.6 706.6)"/>
<ellipse cx="391.4" cy="707.8" rx="2.6" ry="6.2" class="m" transform="rotate(-12 391.4 707.8)"/>
<path d="M366,709.4 L371,712" stroke="#0d0d0d" stroke-width="3.2" stroke-linecap="round"/>
<path d="M377,713 L383,717.2 M381.4,711.2 L379,719" stroke="#0d0d0d" stroke-width="2.8" stroke-linecap="round"/>
<path class="d" d="M365,696.5 L428,682.5 M397,706.5 L430,700"/>
<path class="f" d="M408.5,734 L417,734.5 L416,737 L410,737 Z"/>
<path class="f" d="M319.5,586 L321.6,578.4 Q322.4,575.8 325,576.4 L335.6,580 Q337.4,580.6 337.4,583 L337.6,603 Q337.4,605.6 335,605 L324.4,601.8 L320.6,594 Z"/>
<path d="M323.8,584.4 L327.2,581.6 L329.6,583.2 L326.6,587.4 Z" fill="#fff"/>
<path d="M325,594.6 L328,595.4" stroke="#fff" stroke-width="1.2"/>
<path d="M337.4,595.4 L346,596.6" stroke="#0d0d0d" stroke-width="5" fill="none"/>
<path class="f" d="M346,592 L363.6,592.6 L364,611.6 L352.4,612.6 L343.6,607 L343.4,598 Z"/>
<path d="M345.6,601.4 q2.6,1.2 2.6,5.4 M348.4,600.6 q2.4,1.4 2.6,5.6" stroke="#fff" stroke-width="0.8" fill="none"/>
<path class="ow" style="stroke-width:2.8" d="M429.4,682.5 Q429,680.2 431.5,680 L434.5,680 Q437,680.4 436.8,683 L436.6,689 L429.6,689.8 Z"/>
<path class="ow" style="stroke-width:3" d="M430,690.5 C434.5,688.5 438.4,692 439.4,698 C440.2,704 439.2,710.5 436.6,714.4 L431,713.2 C433.6,706 433.4,697.5 430,690.5 Z"/>
<circle cx="435.6" cy="709.6" r="1.2" class="f"/>
<path class="f" d="M449.6,690.4 L460,689.6 L465,696 L462.6,703.6 L452,705 L446.4,698.6 Z"/>
<path d="M455.4,692.8 L460.4,692.6 L462.6,696.6 L461,701 L456.8,701.4" stroke="#fff" stroke-width="1.1" fill="none"/>
<path class="d" d="M438,685.5 L470,678.5 M465,695.8 L497,689"/>
<path class="ow" style="stroke-width:2" d="M130.4,683 L154.9,676.7 L174.8,674.6 C185,673.5 192,669.5 200,668.8 C207,668.2 213,671 218,672.6 C221,672.8 224,670 228,666 L237.6,657.7 L243.6,672.6 L226,678 C222,679.2 218,678.6 214,677.6 C208,675.6 203,674.4 198,675 C190,676.5 184,679.8 176,680.6 L155.6,683 L130.6,690.4 Z"/>
<path class="m" d="M154.9,676.7 L156,683 M174.8,674.6 L176,680.6"/>
<path class="ow" style="stroke-width:2.2" d="M237.6,657.7 L266.4,643.8 L273.3,658.7 L243.6,672.6 Z"/>
<path class="m" d="M240,662.6 L268.6,648.8 M241.8,667.6 L271,653.6"/>
<path d="M271.6,650.4 L276.2,648.6" stroke="#0d0d0d" stroke-width="3.2" stroke-linecap="round"/>
<path class="ow" style="stroke-width:2.4" d="M11.8,675.9 C24,674.6 34,672.6 41.7,670.3 C50,667.6 57,664.6 62.6,662 C67,659.6 71,657 74.5,654.6 L83.4,652.9 L122.3,643.9 C127.5,643.4 131,645.6 132,650.4 C132.6,655 131,658.4 127.4,659.6 L124.4,659.9 L90.4,665.5 L82,664.8 C76,669 71,672 66.7,674.5 C60,678 54,680 48.7,681.4 C40,683.6 32,684.8 23.6,685.6 L16.7,702.3 L7,689.8 Z"/>
<path class="o" style="stroke-width:2.2" d="M23.6,685.6 L11.8,675.9 M122.3,643.9 C125.4,648 125.6,655 124.4,659.9"/>
<path class="f" d="M11.2,685.6 L15.4,684.4 L18.2,688.4 L16.2,695.4 L12,690.6 Z"/>
<path class="ow" style="stroke-width:2.2" d="M16.7,702.3 L48.7,695.3 L53.5,688 L40,685.4 L23.6,686.6 Z"/>
<path class="o" style="stroke-width:2" d="M24.6,696.6 C30,694.6 34,692 37.6,689.8 C40,688 42,689 41.8,691.6 C44,694.4 47,693.6 48.7,691 M22.4,688.6 C28,690 32,693.6 37,694.6"/>
<ellipse cx="43.1" cy="690.4" rx="4.6" ry="3.8" class="ow" style="stroke-width:2"/>
<path class="o" style="stroke-width:3" d="M55,688.4 C62,690 70,693 77.4,697.4 M50,695.6 C58,696 68,698 77,700.6"/>
<path class="o" style="stroke-width:2" d="M58.4,686.6 C66,680 74,673 82,666.5 M55,685 C62,678.4 69,672.6 75,668.8"/>
<circle cx="53.5" cy="687.8" r="3.6" class="f"/>
<path class="ow" style="stroke-width:2.4" d="M84.8,687 L122.3,678.7 C127,678 129.6,680.4 130,684.4 C130.4,688.4 129,691.6 125.1,693.3 L90.4,699.5 Z"/>
<path class="o" style="stroke-width:2" d="M122.3,678.7 C125.6,682.4 126,688.4 125.1,693.3"/>
<ellipse cx="81.6" cy="659.8" rx="5" ry="8.8" fill="#fff" stroke="#0d0d0d" stroke-width="4" transform="rotate(-36 81.6 659.8)"/>
<ellipse cx="81.8" cy="694.6" rx="5" ry="9.2" fill="#fff" stroke="#0d0d0d" stroke-width="4.2" transform="rotate(-36 81.8 694.6)"/>
<path class="m" d="M88,702 C90.4,705.6 91,709 89,712"/>
<path class="ow" style="stroke-width:2" d="M226,757.2 L259.4,750.2 C266,749.2 272,750.6 279.3,751.2 C284,752.2 289,753 293.2,752.2 C297,750.6 300,746.4 303,743.4 L307.1,739.2 L313.1,753.1 L300,757.6 C297,759 294,759.4 291,759 C284,758.4 276,757 268,757 L228,763.6 Z"/>
<path class="m" d="M245.2,753.2 L246,760.4"/>
<path class="ow" style="stroke-width:2.2" d="M307.1,739.2 L335.9,723.3 L343.9,738.2 L313.1,753.1 Z"/>
<path class="m" d="M309.4,744 L338.4,728 M311.4,748.8 L341.6,733.2"/>
<path d="M341.6,731.4 L346.6,729.3" stroke="#0d0d0d" stroke-width="3.2" stroke-linecap="round"/>
<path class="ow" style="stroke-width:2.6" d="M106.6,789.7 L131.1,764.2 L212.3,751 C216,750.6 219,752 220.8,753.9 C224,757 226,761 226.4,765.2 C226.4,770 225,774.6 222.6,778.4 L106.6,800.1 Z"/>
<path class="o" style="stroke-width:2.2" d="M112.3,789.7 L225.5,769"/>
<path class="o" style="stroke-width:3" d="M148.1,766.1 L210.4,754.8 M148.1,771.8 L176.6,766.5 M187.7,764.3 L214.2,759.5 M151.9,779.3 L180.2,773.7 M189.6,771.8 L219.8,766.1"/>
<path class="ow" style="stroke-width:2" d="M176.4,762.4 L183.6,760.8 L187.4,774.4 L180.4,776 Z"/>
<path class="o" style="stroke-width:2.2" d="M212.3,751.4 L215.4,756 L216.4,766.6"/>
<path class="ow" style="stroke-width:2" d="M119.8,773.7 L129.2,770.8 L134,777.5 L124.5,780.3 Z"/>
<path class="o" style="stroke-width:3" d="M138.7,777.5 L116,784 L106.6,789.7"/>
<path class="o" style="stroke-width:3.2" d="M131.1,764.2 C131.6,768 132.4,770.6 134,772.6 C136,775 139,776.4 141.6,775.6 C144,774.6 144.4,772 142.5,769.4"/>
<path class="ow" style="stroke-width:2.6" d="M104.7,772.4 C106.6,767 109,762.6 112.3,759.5 C116,756 120.4,753.6 125.5,752 C130,750.4 135,749.4 140.6,748.2 L155.7,745.4 C158.6,745.4 159.8,747 159.4,749.2 L157.5,756.7 L140.6,758.6 C135,759.6 130,761 125.5,763.3 C121.6,765.6 118.6,768.6 116,772.7 C113,777 110.6,781 108.5,785 L103,788 Z"/>
<path class="f" d="M95.4,774 L105,771.2 L105.4,775.6 L99,777.6 Z"/>
<path class="ow" style="stroke-width:2.6" d="M64.2,782.2 L94.3,775.6 L104.7,786.9 L101.9,802.9 L69.8,809.5 L58.5,795.4 Z"/>
<path class="o" style="stroke-width:2.4" d="M64.2,782.2 L74.5,793.5 L104.7,786.9 M74.5,793.5 L69.8,809.5 M60.4,791.6 L71.7,803.9 L100.9,798.2 M59.6,794 L70.6,806.4"/>
<ellipse cx="84.9" cy="784" rx="5.2" ry="3.5" fill="#fff" stroke="#0d0d0d" stroke-width="3" transform="rotate(-10 84.9 784)"/>
<path class="o" style="stroke-width:2.2" d="M104,789 C106,786.6 108.4,787 109.6,789.6 L106,801.6 L101.6,803.6"/>
<path class="f" d="M102.8,800.4 L121.7,796.8 L121.7,799.4 L102.8,803.4 Z"/>
<path class="o" style="stroke-width:2.5" d="M905.4,627 C906.2,629.2 908.3,635.2 910.2,640 C912.1,644.8 913.7,649.0 916.6,655.9 C919.5,662.8 924.0,673.3 927.7,681.3 C931.4,689.2 935.1,697.2 938.8,703.6 C942.5,710.0 947.5,715.0 950,719.5 C952.5,724.0 953.6,727.1 953.9,730.6 C954.1,734.1 953.2,736.8 951.5,740.2 C949.8,743.7 946.2,747.6 943.6,751.3 C941.0,755.0 938.0,758.4 935.6,762.4 C933.2,766.4 931.4,770.3 929.3,775.1 C927.2,779.9 924.0,788.4 922.9,791 "/>
<path class="o" style="stroke-width:2.5" d="M903.8,651.1 C905.1,654.5 908.9,664.9 911.8,671.8 C914.7,678.7 917.8,685.9 921.3,692.5 C924.8,699.1 928.8,705.9 932.5,711.5 C936.2,717.1 941.4,722.4 943.6,725.9 C945.9,729.4 946.1,729.8 946,732.2 C945.9,734.6 944.8,737.0 942.8,740.2 C940.8,743.4 936.8,747.6 934,751.3 C931.2,755.0 928.5,758.2 926.1,762.4 C923.7,766.6 921.6,771.9 919.7,776.7 C917.9,781.5 915.8,788.6 915,791 "/>
<path d="M934,757.6 L936.6,758.6" stroke="#0d0d0d" stroke-width="1.8"/>
<path class="ow" style="stroke-width:2.6" d="M879.9,824.5 L891.8,839.6 C895,841.2 898,841 899.7,840.4 C905,839.4 909,837.6 912.4,835.6 L914,830.8 L906,806 L884,806 Z"/>
<ellipse cx="891.4" cy="815.3" rx="13" ry="12" fill="#fff" stroke="#0d0d0d" stroke-width="2.8" transform="rotate(-20 891.4 815.3)"/>
<path class="f" d="M882.6,827.9 L887.8,825.8 L898.4,837.4 L892,840.2 Z"/>
<path d="M885,828.6 L894.6,839" stroke="#fff" stroke-width="0.7"/>
<path class="f" d="M886.4,825 q2.4,-2.6 5,-0.6 l-1,2.4 z"/>
<path class="f" d="M903.3,803.4 L908.5,808.2 L919,815.7 L914.2,830.8 L912.4,836 L907.7,824.5 L904.3,811.8 Z"/>
<path d="M906.6,810.6 L913,829" stroke="#fff" stroke-width="0.7"/>
<path class="f" d="M906.1,793.1 L918.8,790.9 L926.4,799.1 L923.5,806.4 L921,813 L915.6,809.6 L909.2,808 L903.2,803 Z"/>
<path d="M912.4,808.6 L916.6,811.2 L918.6,815.2 L914.6,813 Z" fill="#fff"/>
<path d="M920.6,800.6 L919,806.4" stroke="#fff" stroke-width="1"/>
<path d="M873.3,805.6 L883.6,817" stroke="#0d0d0d" stroke-width="5" stroke-linecap="round"/><path d="M874.6,807.2 L883.4,816.8" stroke="#fff" stroke-width="1.5" stroke-linecap="round"/>
<path d="M892,802.4 L899.5,813.2" stroke="#0d0d0d" stroke-width="4.8" stroke-linecap="round"/><path d="M893.2,804.2 L899.3,813" stroke="#fff" stroke-width="1.4" stroke-linecap="round"/>
<path class="ow" d="M820.1,459.1 C822,456.8 825,456.3 827.9,456.1 L845.8,454.3 C854,455.4 862,458 869.6,460.3 L893.4,469.8 C898,472 901,474.4 903,476.9 C904.6,479.6 905.2,482.4 905.4,485.3 L906.6,502.5 L899.6,503.4 L901.9,599 L908.3,596.8 L904.4,648.6 L902.6,650.6 L877.9,653.7 L825.7,630.4 L825.7,540 C825.6,532 825.6,526 825.5,519.9 L821.9,487.7 L819.5,463.8 Z"/>
<path class="o" style="stroke-width:3" d="M821.4,460 L823.6,487 L827.2,520 L827.4,630"/>
<path class="o" style="stroke-width:4" d="M823.1,459.9 L851.7,469.9 L876.7,479.3 L881.5,481.8"/>
<path class="m" d="M893.4,474.4 L880.5,476.8"/>
<ellipse cx="844" cy="460.9" rx="3.4" ry="1.7" class="f" transform="rotate(8 844 460.9)"/><ellipse cx="873.2" cy="471.6" rx="3.4" ry="1.7" class="f" transform="rotate(10 873.2 471.6)"/>
<path class="o" style="stroke-width:2.4" d="M836.8,465.6 L838,480.5 M853.5,472.2 L853.5,481"/>
<path class="f" d="M838.2,482 C839,479.6 841,479.4 844,480 L879.1,487.7 L881.5,482 L884,500 L886.3,523.4 L888.7,560 L889.4,580 L889.3,589.7 L849.6,578 L842.6,577.6 L840.4,560 L839.8,540 Z"/>
<rect x="841.2" y="485.2" width="9.4" height="1.9" rx="0.9" fill="#fff" transform="rotate(4 846 486.1)"/>
<rect x="841.3" y="493.6" width="9.4" height="1.9" rx="0.9" fill="#fff" transform="rotate(4 846 494.5)"/>
<rect x="841.4" y="502.7" width="9.4" height="1.9" rx="0.9" fill="#fff" transform="rotate(4 846 503.6)"/>
<rect x="841.6" y="511.1" width="9.4" height="1.9" rx="0.9" fill="#fff" transform="rotate(4 846 512)"/>
<rect x="841.7" y="537.5" width="9.4" height="1.9" rx="0.9" fill="#fff" transform="rotate(4 846 538.4)"/>
<rect x="841.8" y="546.6" width="9.4" height="1.9" rx="0.9" fill="#fff" transform="rotate(4 846 547.5)"/>
<rect x="841.9" y="555.0" width="9.4" height="1.9" rx="0.9" fill="#fff" transform="rotate(4 846 555.9)"/>
<rect x="842.0" y="564.0" width="9.4" height="1.9" rx="0.9" fill="#fff" transform="rotate(4 846 564.9)"/>
<rect x="842.2" y="572.4" width="9.4" height="1.9" rx="0.9" fill="#fff" transform="rotate(4 846 573.3)"/>
<path d="M855.2,486.8 L872.0,490.7" stroke="#5a5a5a" stroke-width="1.1"/>
<path d="M855.4,495.8 L872.3,499.7" stroke="#5a5a5a" stroke-width="1.1"/>
<path d="M855.5,504.9 L872.6,508.8" stroke="#5a5a5a" stroke-width="1.1"/>
<path d="M855.7,513.9 L863.0,515.6" stroke="#5a5a5a" stroke-width="1.1"/>
<path d="M855.8,522.3 L873.2,526.3" stroke="#9a9a9a" stroke-width="1.1"/>
<path d="M856.0,530.7 L873.5,534.7" stroke="#9a9a9a" stroke-width="1.1"/>
<path d="M856.1,539.7 L873.8,543.8" stroke="#9a9a9a" stroke-width="1.1"/>
<path d="M856.2,548.1 L874.1,552.2" stroke="#9a9a9a" stroke-width="1.1"/>
<path d="M856.4,557.1 L874.4,561.2" stroke="#9a9a9a" stroke-width="1.1"/>
<path d="M856.6,565.5 L874.7,569.7" stroke="#9a9a9a" stroke-width="1.1"/>
<path d="M856.7,573.9 L875.0,578.1" stroke="#9a9a9a" stroke-width="1.1"/>
<path d="M879.2,494.3 L882.6,497.3 L879.5,499.1 Z" fill="#fff"/>
<path d="M879.7,502.7 L883.1,505.7 L880.0,507.5 Z" fill="#fff"/>
<path d="M880.1,511.7 L883.5,514.7 L880.4,516.5 Z" fill="#fff"/>
<path d="M880.6,520.1 L884.0,523.1 L880.9,524.9 Z" fill="#fff"/>
<path d="M881.0,528.5 L884.4,531.5 L881.3,533.3 Z" fill="#fff"/>
<path d="M881.5,537.5 L884.9,540.5 L881.8,542.3 Z" fill="#fff"/>
<path d="M881.9,546.6 L885.3,549.6 L882.2,551.4 Z" fill="#fff"/>
<path d="M882.4,555.6 L885.8,558.6 L882.6,560.4 Z" fill="#fff"/>
<path d="M882.8,564.0 L886.2,567.0 L883.1,568.8 Z" fill="#fff"/>
<path d="M883.2,573.0 L886.6,576.0 L883.5,577.8 Z" fill="#fff"/>
<path class="o" style="stroke-width:3" d="M881.5,482 C883,490 883.6,496 883.9,499.6 L886.3,523.4 L888.7,560 C889.6,575 889.8,585 889.3,589.7 C888.4,610 886.6,635 885.3,651.2"/>
<path class="o" style="stroke-width:2.2" d="M899.6,503.4 C907.6,503.8 908.6,510.4 901.2,511.2 C907.8,512.4 908.8,519.0 901.4,519.8 C908.1,521.0 909.1,527.6 901.7,528.4 C908.3,529.7 909.3,536.3 901.9,537.1 C908.5,538.3 909.5,544.9 902.1,545.7 C908.8,546.9 909.8,553.5 902.4,554.3 C909.0,555.5 910.0,562.1 902.6,562.9 C909.2,564.1 910.2,570.7 902.8,571.5 C909.4,572.8 910.4,579.4 903.0,580.2 C909.7,581.4 910.7,588.0 903.3,588.8 C909.9,590.0 910.9,596.6 903.5,597.4 "/>
<path class="f" d="M899.6,504.0 L904.4,509.8 L900.2,512.8 Z"/>
<path class="f" d="M899.8,512.6 L904.6,518.4 L900.4,521.4 Z"/>
<path class="f" d="M900.1,521.2 L904.9,527.0 L900.7,530.0 Z"/>
<path class="f" d="M900.3,529.9 L905.1,535.7 L900.9,538.7 Z"/>
<path class="f" d="M900.5,538.5 L905.3,544.3 L901.1,547.3 Z"/>
<path class="f" d="M900.8,547.1 L905.5,552.9 L901.4,555.9 Z"/>
<path class="f" d="M901.0,555.7 L905.8,561.5 L901.6,564.5 Z"/>
<path class="f" d="M901.2,564.3 L906.0,570.1 L901.8,573.1 Z"/>
<path class="f" d="M901.4,573.0 L906.2,578.8 L902.0,581.8 Z"/>
<path class="f" d="M901.7,581.6 L906.5,587.4 L902.3,590.4 Z"/>
<path class="f" d="M901.9,590.2 L906.7,596.0 L902.5,599.0 Z"/>
<path class="o" style="stroke-width:2.4" d="M899.8,504 L902,599"/>
<path class="o" style="stroke-width:3" d="M861.5,591.6 L887.3,601.6 M847.6,619.4 L885.3,635.3"/>
<path class="o" style="stroke-width:2" d="M849.6,577.7 L849,590 M841.6,627.4 L883.3,645.3 M840.6,540 L839.7,627.4 L826,630.5 M850,604 L848,619 M861.8,592 L861.5,619.4"/>
<path class="f" d="M845,585 C848,583 853,583.5 857.5,584.4 L861.5,586 L861.5,592 L852,590.4 L852,596 L857,598 L861.5,598.4 L861.5,619.4 L852,614.6 L846,612.6 L843.4,606 L843.6,592 Z"/>
<path d="M846.6,596 L850.6,596.6 L850.8,607.6 L847,606.4 Z" fill="#fff"/><path d="M853.2,600.4 L859.6,601.8 L859.4,611.6 L853.2,609.6 Z" fill="#fff"/>
<ellipse cx="843.6" cy="632" rx="2.8" ry="1.5" class="f" transform="rotate(20 843.6 632)"/><ellipse cx="882" cy="646.4" rx="2.2" ry="1.3" class="f" transform="rotate(20 882 646.4)"/>
<circle cx="899" cy="646.6" r="1.6" class="f"/>
<path class="f" d="M829,632.5 L836,635.5 L835.4,638 L830.4,636.4 Z M877,653.4 L884,652.4 L883.6,655.6 L878.4,656.4 Z"/>
<path d="M812,526.6 L850,519.9 L849.6,528.6 L812,535.2 Z" fill="#fff"/>
<path d="M812,525.6 L850.4,518.85" stroke="#0d0d0d" stroke-width="5.2" fill="none"/>
<path d="M812,535.7 L849.6,529.1" stroke="#0d0d0d" stroke-width="1.9" fill="none"/>
<ellipse cx="815.4" cy="531.4" rx="3.2" ry="2.2" fill="#fff" stroke="#0d0d0d" stroke-width="1.8" transform="rotate(-12 815.4 531.4)"/>
<ellipse cx="826.6" cy="536.6" rx="4" ry="3.4" class="f"/><path d="M825.6,538 V556" stroke="#0d0d0d" stroke-width="1.6"/>
<path class="d" d="M812,516.4 L838,512"/>
<text x="425.8" y="237.4" font-size="25" textLength="6.7" lengthAdjust="spacingAndGlyphs" class="lb">1</text>
<text x="436.1" y="237.4" font-size="25" textLength="6.7" lengthAdjust="spacingAndGlyphs" class="lb">9</text>
<text x="418.9" y="315.8" font-size="25" textLength="6.7" lengthAdjust="spacingAndGlyphs" class="lb">1</text>
<text x="429.2" y="315.8" font-size="25" textLength="6.7" lengthAdjust="spacingAndGlyphs" class="lb">8</text>
<text x="418.9" y="389.7" font-size="25" textLength="6.7" lengthAdjust="spacingAndGlyphs" class="lb">1</text>
<text x="429.2" y="389.7" font-size="25" textLength="6.7" lengthAdjust="spacingAndGlyphs" class="lb">7</text>
<text x="418.9" y="444.3" font-size="25" textLength="6.7" lengthAdjust="spacingAndGlyphs" class="lb">1</text>
<text x="429.2" y="444.3" font-size="25" textLength="6.7" lengthAdjust="spacingAndGlyphs" class="lb">3</text>
<text x="351.5" y="487.5" font-size="25" textLength="6.7" lengthAdjust="spacingAndGlyphs" class="lb">1</text>
<text x="361.8" y="487.5" font-size="25" textLength="6.7" lengthAdjust="spacingAndGlyphs" class="lb">0</text>
<text x="282.8" y="580.6" font-size="25" textLength="6.7" lengthAdjust="spacingAndGlyphs" class="lb">4</text>
<text x="306.4" y="611.4" font-size="25" textLength="6.7" lengthAdjust="spacingAndGlyphs" class="lb">5</text>
<text x="306.4" y="636.3" font-size="25" textLength="6.7" lengthAdjust="spacingAndGlyphs" class="lb">6</text>
<text x="308.9" y="691.9" font-size="25" textLength="6.7" lengthAdjust="spacingAndGlyphs" class="lb">7</text>
<text x="85.2" y="719.6" font-size="25" textLength="6.7" lengthAdjust="spacingAndGlyphs" class="lb">3</text>
<text x="118.7" y="825.1" font-size="25" textLength="6.7" lengthAdjust="spacingAndGlyphs" class="lb">1</text>
<text x="347.0" y="770.2" font-size="25" textLength="6.7" lengthAdjust="spacingAndGlyphs" class="lb">2</text>
<text x="455.5" y="741" font-size="25" textLength="6.7" lengthAdjust="spacingAndGlyphs" class="lb">8</text>
<text x="510.3" y="741.3" font-size="25" textLength="6.7" lengthAdjust="spacingAndGlyphs" class="lb">9</text>
<text x="620.6" y="744.4" font-size="25" textLength="6.7" lengthAdjust="spacingAndGlyphs" class="lb">1</text>
<text x="630.9" y="744.4" font-size="25" textLength="6.7" lengthAdjust="spacingAndGlyphs" class="lb">1</text>
<text x="710.3" y="744.4" font-size="25" textLength="6.7" lengthAdjust="spacingAndGlyphs" class="lb">1</text>
<text x="720.6" y="744.4" font-size="25" textLength="6.7" lengthAdjust="spacingAndGlyphs" class="lb">5</text>
<text x="777.6" y="744.4" font-size="25" textLength="6.7" lengthAdjust="spacingAndGlyphs" class="lb">1</text>
<text x="787.9" y="744.4" font-size="25" textLength="6.7" lengthAdjust="spacingAndGlyphs" class="lb">6</text>
<text x="815.4" y="734.3" font-size="25" textLength="6.7" lengthAdjust="spacingAndGlyphs" class="lb">1</text>
<text x="825.7" y="734.3" font-size="25" textLength="6.7" lengthAdjust="spacingAndGlyphs" class="lb">4</text>
<text x="554.4" y="570.8" font-size="25" textLength="6.7" lengthAdjust="spacingAndGlyphs" class="lb">1</text>
<text x="564.7" y="570.8" font-size="25" textLength="6.7" lengthAdjust="spacingAndGlyphs" class="lb">2</text>
<text x="821.7" y="410.7" font-size="25" textLength="6.7" lengthAdjust="spacingAndGlyphs" class="lb">2</text>
<text x="832.0" y="410.7" font-size="25" textLength="6.7" lengthAdjust="spacingAndGlyphs" class="lb">1</text>
<text x="940.0" y="676" font-size="25" textLength="6.7" lengthAdjust="spacingAndGlyphs" class="lb">2</text>
<text x="950.3" y="676" font-size="25" textLength="6.7" lengthAdjust="spacingAndGlyphs" class="lb">2</text>
<text x="974.3" y="775.8" font-size="25" textLength="6.7" lengthAdjust="spacingAndGlyphs" class="lb">2</text>
<text x="984.6" y="775.8" font-size="25" textLength="6.7" lengthAdjust="spacingAndGlyphs" class="lb">3</text>
<path d="M415.5,244.3 L452.6,244.3 L497.3,254.3" class="l"/>
<path d="M408,322 L447.7,322 L517.2,325.8" class="l"/>
<path d="M407.9,396.7 L443.7,396.7 L570.8,538.7" class="l"/>
<path d="M407.9,451.3 L445.7,451.3 L471.5,495" class="l"/>
<path d="M340,493.5 L377.4,493.5 L449.4,525.7" class="l"/>
<path d="M267,588.2 L304.7,588.2 L321.6,579.7" class="l"/>
<path d="M290.8,618 L328.5,618 L339.4,603.5" class="l"/>
<path d="M290.8,643.6 L328.5,643.6 L345.4,617.4" class="l"/>
<path d="M293.8,698.8 L330.5,698.8 L355.3,711.7" class="l"/>
<path d="M107.3,725.5 L68.5,725.5 L51.6,695.3" class="l"/>
<path d="M140.3,831.1 L102.6,831.1 L93.6,803.3" class="l"/>
<path d="M368.7,776.9 L330.9,776.9 L318,747.1" class="l"/>
<path d="M477.9,747.7 L439.7,747.7 L435.7,709.9" class="l"/>
<path d="M531.9,747.7 L493.7,747.7 L463.6,701.2" class="l"/>
<path d="M647.1,751.1 L609.8,751.1 L596.3,699.8" class="l"/>
<path d="M738.3,750.6 L700.2,750.6 L670,671.5" class="l"/>
<path d="M805,750.6 L766.9,750.6 L724,635" class="l"/>
<path d="M843,740.1 L805,740.1 L792.3,676.3" class="l"/>
<path d="M580.7,577 L544,577 L542,672.8" class="l"/>
<path d="M848.5,417.7 L810.8,417.7 L769.8,513.9" class="l"/>
<path d="M966.8,682.6 L928,682.6 L903.2,652.2" class="l"/>
<path d="M1000,782.6 L963.9,782.6 L935.3,758.3" class="l"/>
<path d="M673.5,247.3 L733,248.7" class="l"/>
<circle cx="497.3" cy="254.3" r="1.3" class="f"/>
<circle cx="517.2" cy="325.8" r="1.3" class="f"/>
</svg>
</body></html>
